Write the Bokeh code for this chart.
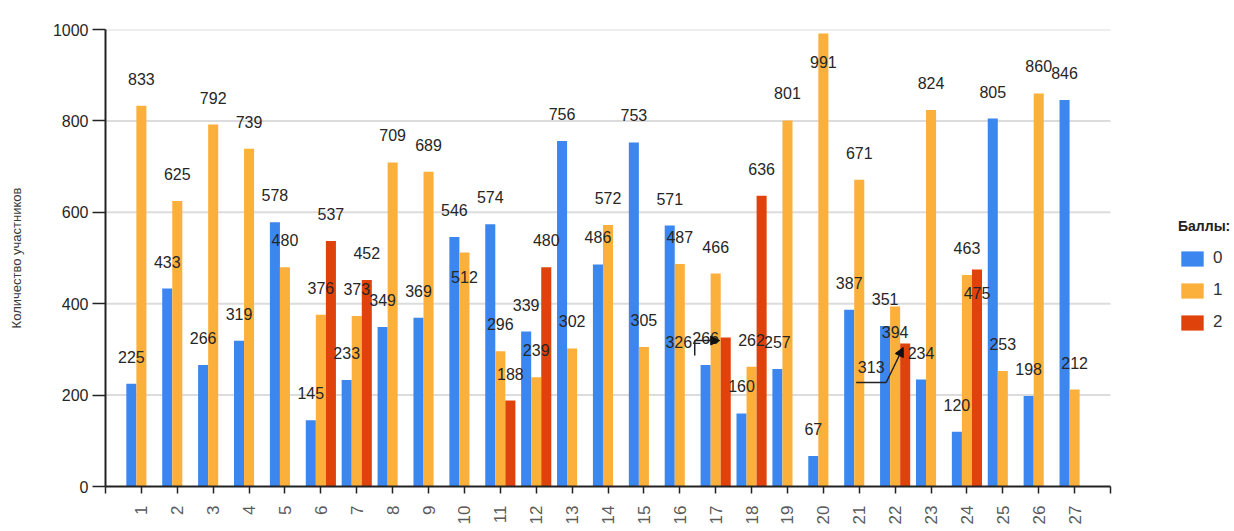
from bokeh.plotting import figure
from bokeh.models import (ColumnDataSource, FixedTicker, Legend, LegendItem,
                          Arrow, NormalHead, Range1d)
from bokeh.core.properties import value
from bokeh.embed import file_html
from bokeh.resources import INLINE

# Number of participants per task (1..27) by score received
questions = list(range(1, 28))
score_0 = [225, 433, 266, 319, 578, 145, 233, 349, 369, 546, 574, 339, 756, 486,
           753, 571, 266, 160, 257, 67, 387, 351, 234, 120, 805, 198, 846]
score_1 = [833, 625, 792, 739, 480, 376, 373, 709, 689, 512, 296, 239, 302, 572,
           305, 487, 466, 262, 801, 991, 671, 394, 824, 463, 253, 860, 212]
score_2_tasks = [6, 7, 11, 12, 17, 18, 22, 24]
score_2 = [537, 452, 188, 480, 326, 636, 313, 475]

series_names = ["0", "1", "2"]
colors = ["#3c86f0", "#fcb03c", "#e0420c"]
y_ticks = [0, 200, 400, 600, 800, 1000]
y_title = "Количество участников"
legend_title = "Баллы:"

FONT = "Liberation Sans"
TEXT_COLOR = "#262626"

# layout: the plotting frame spans to the right edge so the legend can sit in it;
# the axis and grid only run over the task categories 0..28
LEFT, RIGHT, TOP, BOTTOM = 105, 0, 29, 45
WIDTH, HEIGHT = 1234, 531
FRAME_W, FRAME_H = WIDTH - LEFT - RIGHT, HEIGHT - TOP - BOTTOM
X_AXIS_END = 28
PX_X = 1005 / X_AXIS_END        # pixels per category unit
X_END = FRAME_W / PX_X
PX_Y = FRAME_H / 1000           # pixels per participant
BAR_W = 0.28                    # bar width in category units
SLOT = [-BAR_W, 0.0, BAR_W]     # series offsets inside a group

# label offsets (screen px) for labels not drawn at the default spot
LABEL_ABOVE = -27
label_shift = {
    (1, 10): (0, 24), (1, 20): (0, 28), (1, 22): (0, 26), (2, 24): (0, 24),
    (2, 17): (-47, 4), (2, 22): (-34, 24),
}

p = figure(width=WIDTH, height=HEIGHT, x_range=Range1d(0, X_END), y_range=Range1d(0, 1000),
           output_backend="svg", toolbar_location=None,
           min_border_left=LEFT, min_border_right=RIGHT, min_border_top=TOP,
           min_border_bottom=BOTTOM, outline_line_color=None)

# horizontal grid lines over the category span only
grid_y = [t for t in y_ticks if t > 0]
p.segment(x0=[0] * len(grid_y), x1=[X_AXIS_END] * len(grid_y), y0=grid_y, y1=grid_y,
          line_color="#dcdcdc", line_width=2)

series = [
    (questions, score_0),
    (questions, score_1),
    (score_2_tasks, score_2),
]

renderers = []
lx, ly, lt, lxo, lyo = [], [], [], [], []
for k, (tasks, vals) in enumerate(series):
    xs = [t + SLOT[k] for t in tasks]
    src = ColumnDataSource(dict(x=xs, top=vals))
    r = p.vbar(x="x", top="top", width=BAR_W, source=src,
               fill_color=colors[k], line_color=None)
    renderers.append(r)
    for t, x, v in zip(tasks, xs, vals):
        dx, dy = label_shift.get((k, t), (0, LABEL_ABOVE))
        lx.append(x)
        ly.append(v)
        lt.append(str(v))
        lxo.append(dx)
        lyo.append(dy)

# leader lines from moved labels to their bars
def bar_top(k, task):
    tasks, vals = series[k]
    return task + SLOT[k], vals[tasks.index(task)]

leaders = [
    # (series, task, polyline points in px relative to the bar top)
    (2, 17, [(-31, 18), (-31, 3), (-6, 3)]),
    (2, 22, [(-49, 39), (-19, 39), (-2, 4)]),
]
for k, task, pts in leaders:
    bx, by = bar_top(k, task)
    xs = [bx + dx / PX_X for dx, dy in pts]
    ys = [by - dy / PX_Y for dx, dy in pts]
    p.line(xs[:-1], ys[:-1], line_color="#222222", line_width=1.5)
    p.add_layout(Arrow(x_start=xs[-2], y_start=ys[-2], x_end=xs[-1], y_end=ys[-1],
                       line_color="#222222", line_width=1.5,
                       end=NormalHead(size=9, fill_color="#111111", line_color="#111111")))

lab_src = ColumnDataSource(dict(x=lx, y=ly, text=lt, xo=lxo, yo=lyo))
p.text(x="x", y="y", text="text", x_offset="xo", y_offset="yo", source=lab_src,
       text_align="center", text_baseline="middle",
       text_font=value(FONT), text_font_size="16px", text_color=TEXT_COLOR)

# axes
p.xaxis.bounds = (0, X_AXIS_END)
p.xaxis.ticker = FixedTicker(ticks=list(range(0, X_AXIS_END + 1)))
p.xaxis.major_label_overrides = {0: "", X_AXIS_END: ""}
p.xaxis.major_label_orientation = 1.5708
p.xaxis.major_label_text_font = FONT
p.xaxis.major_label_text_font_size = "17px"
p.xaxis.major_label_text_color = "#5a5a5a"
p.xaxis.major_label_standoff = 12
p.xaxis.major_tick_out = 7
p.xaxis.major_tick_in = 0
p.xaxis.minor_tick_line_color = None
p.xaxis.axis_line_color = "#222222"
p.xaxis.axis_line_width = 2
p.xaxis.major_tick_line_color = "#222222"
p.xaxis.major_tick_line_width = 1.5

p.yaxis.ticker = FixedTicker(ticks=y_ticks)
p.yaxis.major_label_text_font = FONT
p.yaxis.major_label_text_font_size = "16px"
p.yaxis.major_label_text_color = TEXT_COLOR
p.yaxis.major_label_standoff = 4
p.yaxis.major_tick_out = 13
p.yaxis.major_tick_in = 0
p.yaxis.minor_tick_line_color = None
p.yaxis.axis_line_color = "#222222"
p.yaxis.axis_line_width = 2
p.yaxis.major_tick_line_color = "#222222"
p.yaxis.major_tick_line_width = 1.5
p.yaxis.axis_label = y_title
p.yaxis.axis_label_text_font = FONT
p.yaxis.axis_label_text_font_style = "normal"
p.yaxis.axis_label_text_font_size = "13px"
p.yaxis.axis_label_text_color = "#3a3a3a"
p.yaxis.axis_label_standoff = 26

p.xgrid.grid_line_color = None
p.ygrid.grid_line_color = None

legend = Legend(
    items=[LegendItem(label=n, renderers=[r]) for n, r in zip(series_names, renderers)],
    title=legend_title, location=(1073, 154),
    title_text_font=FONT, title_text_font_size="14px", title_text_font_style="bold",
    title_text_color="#222222", title_standoff=14,
    label_text_font=FONT, label_text_font_size="17px", label_text_color="#333333",
    glyph_width=28, glyph_height=19, label_height=19, label_standoff=7, spacing=12,
    padding=0, margin=0, border_line_color=None, background_fill_alpha=0,
)
p.add_layout(legend)

open("out.html", "w").write(file_html(p, INLINE))
